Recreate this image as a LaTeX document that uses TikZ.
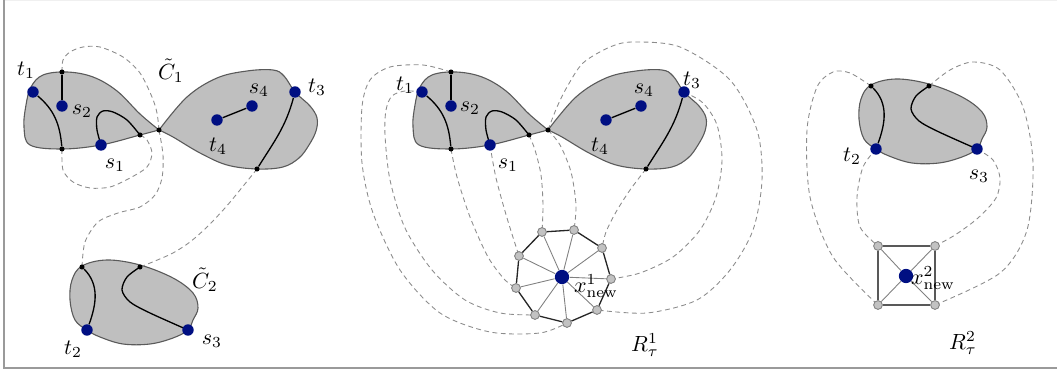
\documentclass[tikz,border=0pt]{standalone}
\usepackage{amsmath}
\usepackage{tikz}
\usetikzlibrary{backgrounds}
\definecolor{termblue}{HTML}{000F82}
\definecolor{regionfill}{HTML}{BFBFBF}
\definecolor{regionline}{HTML}{5A5A5A}
\definecolor{linkgray}{HTML}{8C8C8C}
\definecolor{ringfill}{HTML}{C2C2C2}
\definecolor{framegray}{HTML}{9A9A9A}

\pgfdeclarelayer{regionlayer}
\pgfdeclarelayer{linklayer}
\pgfsetlayers{background,regionlayer,linklayer,main}

% two-lobed region C_1 with its inner paths; #1 = name prefix
\newcommand{\lobepair}[1]{%
  \begin{pgfonlayer}{regionlayer}
    \draw[region] plot[smooth, tension=0.6] coordinates {(159,130) (140,114) (117,91)
      (93,77) (67,72) (43,75) (31,87) (26,105) (24,127) (30,145) (62,149) (101,145)
      (140,135) (159,130)} -- cycle;
    \draw[region] plot[smooth, tension=0.6] coordinates {(159,130) (187,97) (217,78)
      (247,71) (273,70) (284,76) (295,92) (310,106) (317,118) (316,131) (309,145)
      (299,158) (283,167) (257,169) (227,165) (200,153) (173,137) (159,130)} -- cycle;
  \end{pgfonlayer}
  \node[term] (#1t1)   at (33,92)   {};
  \node[port] (#1top)  at (62,72)   {};
  \node[term] (#1s2)   at (62,106)  {};
  \node[port] (#1bot)  at (62,149)  {};
  \node[term] (#1s1)   at (101,145) {};
  \node[port] (#1port) at (140,135) {};
  \node[port] (#1mid)  at (159,130) {};
  \node[term] (#1t4)   at (217,120) {};
  \node[term] (#1s4)   at (252,106) {};
  \node[term] (#1t3)   at (295,92)  {};
  \node[port] (#1rb)   at (257,169) {};
  \begin{pgfonlayer}{linklayer}
    \draw[route] (#1t1) to[out=-40, in=95] (#1bot);
    \draw[route] (#1top) -- (#1s2);
    \draw[route] plot[smooth] coordinates {(#1s1) (97,130) (97,117) (103,111) (113,112)
      (127,120) (#1port)};
    \draw[route] (#1t4) -- (#1s4);
    \draw[route] (#1t3) to[out=-105, in=58] (#1rb);
  \end{pgfonlayer}
}

% oval region C_2 with its inner paths; #1 = name prefix
\newcommand{\ovalregion}[1]{%
  \begin{pgfonlayer}{regionlayer}
    \draw[region] plot[smooth cycle, tension=0.6] coordinates {(82,266) (107,260)
      (140,265) (173,278) (193,293) (198,308) (193,320) (188,330) (173,338) (150,344)
      (123,344) (100,337) (87,330) (75,320) (70,300) (72,280)};
  \end{pgfonlayer}
  \node[port] (#1a)  at (82,267)  {};
  \node[port] (#1b)  at (140,267) {};
  \node[term] (#1t2) at (87,330)  {};
  \node[term] (#1s3) at (188,330) {};
  \begin{pgfonlayer}{linklayer}
    \draw[route] (#1a) to[out=-45, in=70] (#1t2);
    \draw[route] plot[smooth] coordinates {(#1b) (127,277) (122,290) (130,302)
      (150,313) (#1s3)};
  \end{pgfonlayer}
}

\begin{document}
\begin{tikzpicture}[
  x=0.016cm, y=-0.016cm,
  region/.style={fill=regionfill, draw=regionline, line width=0.5pt},
  route/.style={black, line width=0.6pt},
  link/.style={linkgray, line width=0.4pt, dash pattern=on 2.2pt off 1.6pt},
  term/.style={circle, fill=termblue, inner sep=0pt, minimum size=5.2pt},
  port/.style={circle, fill=black, inner sep=0pt, minimum size=2.3pt},
  hub/.style={circle, fill=termblue, inner sep=0pt, minimum size=6.5pt},
  ringnode/.style={circle, fill=ringfill, draw=gray, line width=0.4pt,
                   inner sep=0pt, minimum size=4pt},
  rim/.style={black!85, line width=0.6pt},
  spoke/.style={gray, line width=0.4pt},
  lbl/.style={inner sep=0pt},
]
\useasboundingbox (0,0) rectangle (1057,373);

%% -- frame --------------------------------------------------------------------
\draw[framegray!15, line width=0.4pt] (4,0.5) -- (1057,0.5);
\draw[framegray, line width=0.7pt] (4,0) -- (4,368) -- (1057,368);

%% -- left panel: C_1 and C_2 --------------------------------------------------
\lobepair{l}
\ovalregion{c}

\node[lbl] (lblt1)  at (26,70)   {$t_1$};
\node[lbl] (lbls2)  at (82,111)  {$s_2$};
\node[lbl] (lbls1)  at (115,165) {$s_1$};
\node[lbl] (lblc1)  at (171,71)  {$\tilde{C}_1$};
\node[lbl] (lbls4)  at (259,90)  {$s_4$};
\node[lbl] (lblt4)  at (218,146) {$t_4$};
\node[lbl] (lblt3)  at (317,87)  {$t_3$};
\node[lbl] (lblc2)  at (205,280) {$\tilde{C}_2$};
\node[lbl] (lblt2)  at (73,349)  {$t_2$};
\node[lbl] (lbls3)  at (212,341) {$s_3$};

\begin{pgfonlayer}{linklayer}
  \draw[link] plot[smooth] coordinates {(ltop) (63,60) (70,52) (83,47) (100,47)
    (123,57) (140,73) (152,97) (157,113) (lmid)};
  \draw[link] plot[smooth] coordinates {(lmid) (163,155) (162,178) (155,195)
    (140,207) (118,213) (98,222) (85,242) (ca)};
  \draw[link] plot[smooth] coordinates {(lbot) (63,170) (73,182) (90,188) (110,187)
    (130,178) (147,167) (152,153) (147,140) (lport)};
  \draw[link] plot[smooth] coordinates {(lrb) (240,190) (225,208) (207,227)
    (190,242) (173,253) (155,261) (cb)};
\end{pgfonlayer}

%% -- middle panel: R^1 --------------------------------------------------------
\begin{scope}[shift={(389,0)}]
  \lobepair{m}
\end{scope}

\node[hub] (hub1) at (562,277) {};
\node[ringnode] (r1) at (542,232) {};
\node[ringnode] (r2) at (574,230) {};
\node[ringnode] (r3) at (602,248) {};
\node[ringnode] (r4) at (611,279) {};
\node[ringnode] (r5) at (597,310) {};
\node[ringnode] (r6) at (567,323) {};
\node[ringnode] (r7) at (535,315) {};
\node[ringnode] (r8) at (516,288) {};
\node[ringnode] (r9) at (519,256) {};
\foreach \i in {1,...,9}
  \draw[spoke] (hub1) -- (r\i);
\draw[rim] (r1) -- (r2) -- (r3) -- (r4) -- (r5) -- (r6) -- (r7) -- (r8) -- (r9) -- (r1);

\node[lbl] (lblmt1) at (405,85)  {$t_1$};
\node[lbl] (lblms2) at (470,108) {$s_2$};
\node[lbl] (lblms1) at (508,165) {$s_1$};
\node[lbl] (lblms4) at (644,90)  {$s_4$};
\node[lbl] (lblmt4) at (600,146) {$t_4$};
\node[lbl] (lblmt3) at (692,80)  {$t_3$};
\node[lbl] (lblx1)  at (596,286) {$x^1_{\mathrm{new}}$};
\node[lbl] (lblR1)  at (645,345) {$R^1_\tau$};

\begin{pgfonlayer}{linklayer}
  \draw[link] plot[smooth] coordinates {(mport) (535,150) (541,175) (543,205) (r1)};
  \draw[link] plot[smooth] coordinates {(mmid) (560,145) (571,172) (576,205) (r2)};
  \draw[link] plot[smooth] coordinates {(mrb) (630,190) (616,212) (606,232) (r3)};
  \draw[link] plot[smooth] coordinates {(mt3) (703,103) (717,125) (722,160) (716,197)
    (700,230) (673,257) (640,273) (r4)};
  \draw[link] plot[smooth] coordinates {(mmid) (557,107) (567,87) (583,63) (610,47)
    (633,42) (680,47) (730,80) (757,130) (762,180) (753,230) (730,270) (697,300)
    (647,313) (r5)};
  \draw[link] plot[smooth] coordinates {(mtop) (423,65) (390,67) (370,80) (362,107)
    (362,163) (373,213) (400,270) (440,313) (490,332) (540,333) (r6)};
  \draw[link] plot[smooth] coordinates {(mt1) (405,91) (392,96) (386,110) (385,135)
    (390,180) (405,228) (432,270) (465,300) (500,313) (r7)};
  \draw[link] plot[smooth] coordinates {(mbot) (457,177) (470,217) (488,257)
    (505,280) (r8)};
  \draw[link] plot[smooth] coordinates {(ms1) (496,178) (507,218) (r9)};
\end{pgfonlayer}

%% -- right panel: R^2 ---------------------------------------------------------
\begin{scope}[shift={(789,-181)}]
  \ovalregion{r}
\end{scope}

\node[hub] (hub2) at (906,276) {};
\node[ringnode] (q1) at (878,246) {};
\node[ringnode] (q2) at (935,246) {};
\node[ringnode] (q3) at (935,305) {};
\node[ringnode] (q4) at (878,305) {};
\foreach \q in {q1,q2,q3,q4}
  \draw[spoke] (hub2) -- (\q);
\draw[rim, black!65] (q1) -- (q2) -- (q3) -- (q4) -- (q1);

\node[lbl] (lblrt2) at (852,156) {$t_2$};
\node[lbl] (lblrs3) at (979,176) {$s_3$};
\node[lbl] (lblx2)  at (933,278) {$x^2_{\mathrm{new}}$};
\node[lbl] (lblR2)  at (963,343) {$R^2_\tau$};

\begin{pgfonlayer}{linklayer}
  \draw[link] plot[smooth] coordinates {(rt2) (863,167) (857,197) (860,227) (q1)};
  \draw[link] plot[smooth] coordinates {(rs3) (993,160) (1000,178) (996,198)
    (978,218) (955,235) (q2)};
  \draw[link] plot[smooth] coordinates {(ra) (850,73) (833,72) (817,87) (807,130)
    (810,197) (833,257) (q4)};
  \draw[link] plot[smooth] coordinates {(rb) (950,70) (973,62) (1000,70) (1023,107)
    (1033,163) (1027,230) (1000,273) (q3)};
\end{pgfonlayer}

\end{tikzpicture}
\end{document}
